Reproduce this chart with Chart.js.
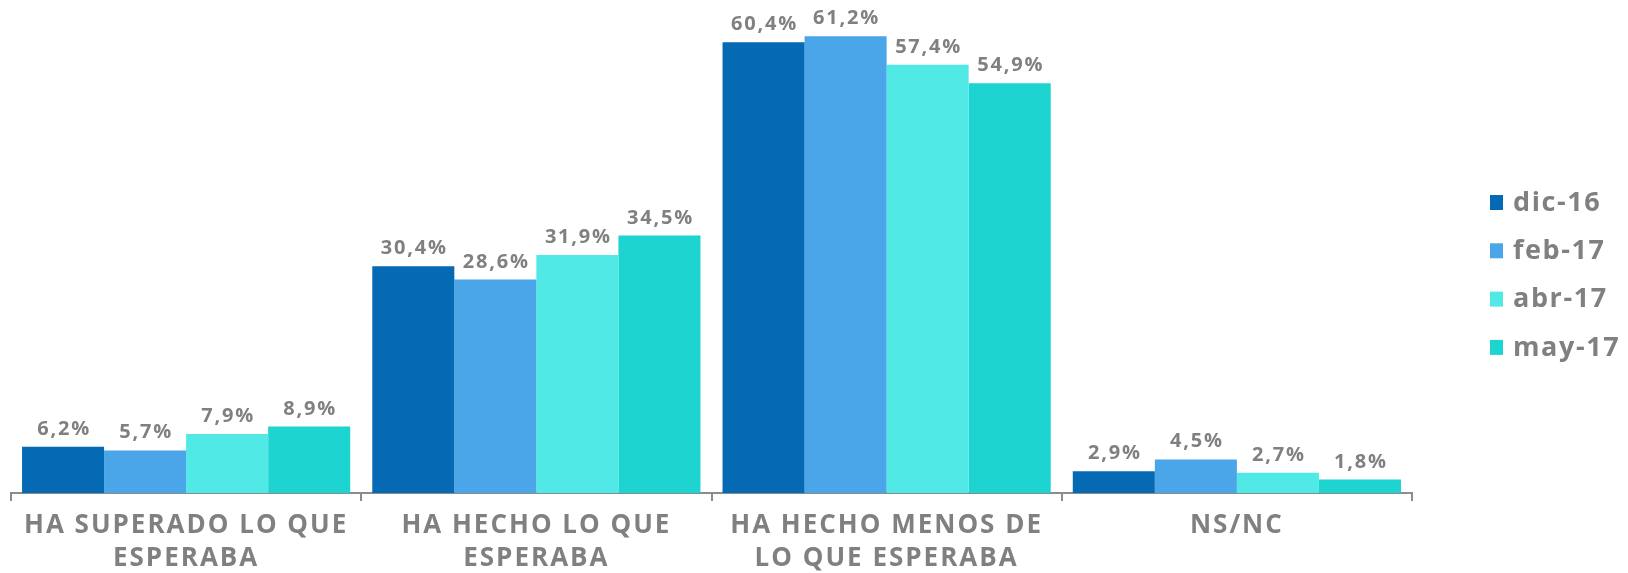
<!DOCTYPE html>
<html>
<head>
<meta charset="utf-8">
<script src="https://cdn.jsdelivr.net/npm/chart.js@4.4.1/dist/chart.umd.min.js"></script>
<style>
  html, body { margin: 0; padding: 0; background: #ffffff; }
  #wrap { width: 1628px; height: 573px; }
</style>
</head>
<body>
<div id="wrap"><canvas id="c" width="1628" height="573"></canvas></div>
<script>
// Survey answer categories (multi-line axis labels)
const categories = [
  ["HA SUPERADO LO QUE", "ESPERABA"],
  ["HA HECHO LO QUE", "ESPERABA"],
  ["HA HECHO MENOS DE", "LO QUE ESPERABA"],
  "NS/NC"
];

// Survey waves
const waves = ["dic-16", "feb-17", "abr-17", "may-17"];

// Percentages per wave, in category order
const dic16 = [6.2, 30.4, 60.4, 2.9];
const feb17 = [5.7, 28.6, 61.2, 4.5];
const abr17 = [7.9, 31.9, 57.4, 2.7];
const may17 = [8.9, 34.5, 54.9, 1.8];

const waveColors = ["#0569B3", "#4AA6E9", "#51E9E6", "#1DD4D0"];
const textGray = "#808080";
const axisGray = "#8c8c8c";
const FONT = "'Open Sans', 'DejaVu Sans', sans-serif";
const SPACING = "2px";

const seriesValues = [dic16, feb17, abr17, may17];

const fmt = v => v.toFixed(1).replace(".", ",") + "%";

// Wider tracking for all chart text
const tracking = {
  id: "tracking",
  beforeUpdate(chart) { chart.ctx.letterSpacing = SPACING; },
  beforeDraw(chart) { chart.ctx.letterSpacing = SPACING; }
};

// Value labels above each bar
const valueLabels = {
  id: "valueLabels",
  afterDatasetsDraw(chart) {
    const ctx = chart.ctx;
    ctx.save();
    ctx.letterSpacing = "1.8px";
    ctx.font = "700 20px " + FONT;
    ctx.fillStyle = textGray;
    ctx.textAlign = "center";
    ctx.textBaseline = "alphabetic";
    chart.data.datasets.forEach((ds, i) => {
      const meta = chart.getDatasetMeta(i);
      meta.data.forEach((bar, j) => {
        ctx.fillText(fmt(ds.data[j]), bar.x + 1, bar.y - 12);
      });
    });
    ctx.restore();
  }
};

// Vertical legend on the right side
const sideLegend = {
  id: "sideLegend",
  afterDraw(chart) {
    const ctx = chart.ctx;
    ctx.save();
    ctx.letterSpacing = "1.6px";
    ctx.font = "700 27px " + FONT;
    ctx.textAlign = "left";
    ctx.textBaseline = "middle";
    const x0 = 1490, y0 = 202, step = 48.3;
    chart.data.datasets.forEach((ds, i) => {
      const y = y0 + i * step;
      ctx.fillStyle = ds.backgroundColor;
      ctx.fillRect(x0, y - 7, 13, 15);
      ctx.fillStyle = textGray;
      ctx.fillText(ds.label, x0 + 23, y + 1);
    });
    ctx.restore();
  }
};

new Chart(document.getElementById("c"), {
  type: "bar",
  data: {
    labels: categories,
    datasets: waves.map((w, i) => ({
      label: w,
      data: seriesValues[i],
      backgroundColor: waveColors[i],
      borderWidth: 0,
      categoryPercentage: 0.937,
      barPercentage: 1.0
    }))
  },
  options: {
    responsive: false,
    animation: false,
    devicePixelRatio: 1,
    layout: { padding: { top: 8, left: 11, right: 216, bottom: 0 } },
    plugins: {
      legend: { display: false },
      tooltip: { enabled: false }
    },
    scales: {
      x: {
        afterFit(scale) { scale.height = 80; },
        grid: {
          display: true,
          drawOnChartArea: false,
          drawTicks: true,
          tickLength: 8,
          color: axisGray,
          lineWidth: 2,
          offset: true
        },
        border: { display: true, color: axisGray, width: 2 },
        ticks: {
          color: textGray,
          font: { family: FONT, size: 26, weight: "700", lineHeight: 1.26 },
          padding: 8,
          maxRotation: 0,
          autoSkip: false
        }
      },
      y: {
        display: false,
        min: 0,
        max: 65
      }
    }
  },
  plugins: [tracking, valueLabels, sideLegend]
});
</script>
</body>
</html>
